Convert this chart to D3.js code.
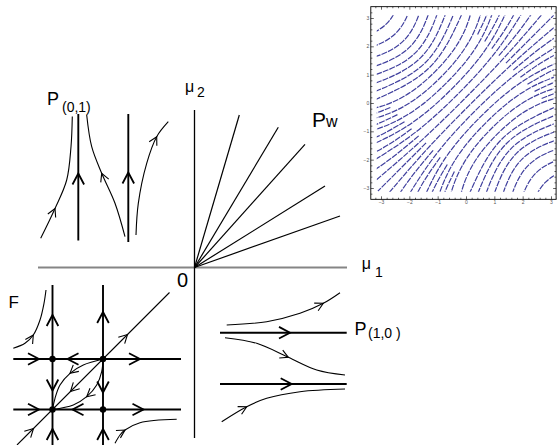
<!DOCTYPE html>
<html>
<head>
<meta charset="utf-8">
<script src="https://cdn.jsdelivr.net/npm/d3@7"></script>
<style>
body { margin: 0; background: #fff; }
svg { display: block; font-family: "Liberation Sans", Arial, sans-serif; }
</style>
</head>
<body>
<svg width="557" height="445"></svg>
<script>
// ---- main diagram, units: origin at (mu1, mu2) = (0, 0), y up ----
var axisH = [[-15.65, 0], [15.25, 0]];
var axisV = [[0, 15.75], [0, -17.05]];

// P_w : rays out of the origin (end points)
var rays = [[4.48, 15.25], [8.38, 14.02], [11.05, 12.32], [13.05, 8.15], [14.55, 5.15]];

// straight (invariant) trajectories, drawn thick
var straightLines = [
    [[-11.62, 15.35], [-11.62, 2.7]],
    [[-6.62, 15.35], [-6.62, 2.55]],
    [[-14.2, -1.75], [-14.2, -17.75]],
    [[-9.15, -1.75], [-9.15, -17.75]],
    [[-18.12, -9.15], [-1.35, -9.15]],
    [[-18.12, -14.2], [-1.35, -14.2]],
    [[2.55, -6.52], [15.22, -6.52]],
    [[2.55, -11.65], [15.22, -11.65]]
];
var diagonal = [[-17.75, -17.75], [-2.5, -2.5]];
var equilibria = [[-14.2, -9.15], [-9.15, -9.15], [-14.2, -14.2], [-9.15, -14.2]];

// arrow heads on the thick lines: [u, v, direction in degrees]
var lineArrows = [
    [-11.62, 9.4, 90], [-6.62, 9.5, 90],
    [-14.2, -4.75, 90], [-14.2, -12.3, -90], [-14.2, -16.15, 90],
    [-9.15, -4.45, 90], [-9.15, -12.5, -90], [-9.15, -16.15, 90],
    [-15.55, -9.15, 0], [-12.7, -9.15, 180], [-5.45, -9.15, 0],
    [-15.55, -14.2, 0], [-12.2, -14.2, 180], [-5.1, -14.2, 0],
    [9.55, -6.52, 0], [9.72, -11.65, 0]
];
var diagonalArrows = [[-6.7, -6.7, 45], [-16.1, -16.1, 45], [-12.4, -12.4, 225]];

// curved trajectories
var curves = [
    [[-15.38, 2.92], [-13.95, 5.9], [-12.78, 8.75], [-12.35, 12.08], [-12.22, 15.1]],
    [[-10.78, 15.25], [-10.28, 12.08], [-9.28, 9.42], [-7.95, 6.42], [-6.95, 3.08]],
    [[-5.85, 3.25], [-5.62, 6.42], [-4.78, 10.42], [-3.78, 13.08], [-2.62, 14.58]],
    [[-18.12, -8.08], [-16.95, -7.58], [-16.12, -6.75], [-15.45, -5.25], [-15.05, -3.58], [-14.85, -2.25]],
    [[-7.95, -17.58], [-7.45, -16.75], [-6.95, -16.25], [-5.45, -15.52], [-1.78, -15.18]],
    [[-9.15, -9.15], [-11.12, -9.75], [-12.45, -10.58], [-13.45, -11.75], [-13.95, -13.08], [-14.2, -14.2]],
    [[-9.15, -9.15], [-9.28, -10.42], [-9.78, -11.75], [-10.78, -12.92], [-12.12, -13.75], [-14.2, -14.2]],
    [[3.22, -5.75], [7.22, -5.42], [10.55, -4.58], [12.88, -3.58], [14.55, -2.52]],
    [[3.05, -7.02], [6.22, -7.58], [9.38, -8.98], [12.22, -10.25], [15.05, -10.75]],
    [[2.72, -15.42], [5.22, -13.92], [7.22, -13.08], [10.55, -12.42], [15.05, -12.15]]
];
// [curve, vertex, +1 forward / -1 backward]
var curveArrows = [[0, 1, 1], [1, 2, -1], [2, 3, 1], [3, 2, 1], [4, 2, 1], [5, 2, 1], [6, 3, 1], [7, 3, 1], [8, 2, 1], [9, 1, 1]];

// text pieces: [text, u, v, size]
var labels = [
    ["P", -14.75, 16.25, 18], ["(0,1)", -13.25, 15.55, 14],
    ["P", 11.75, 14.05, 21], ["w", 13.15, 14.05, 16],
    ["\u03bc", -0.95, 17.6, 16], ["2", 0.25, 17.05, 14],
    ["\u03bc", 16.72, -0.1, 16], ["1", 18.05, -0.95, 14],
    ["0", -1.75, -1.95, 20],
    ["F", -18.6, -4.05, 17],
    ["P", 16.0, -6.75, 18], ["(1,0 )", 17.35, -7.05, 14]
];

// ---- inset: stream plot ----
var insetTicks = [-3, -2, -1, 0, 1, 2, 3];
var streamUpper = [
    [[-3.35, -2.87], [-1.69, -1.43], [-0.1, 0.1], [1.43, 1.69], [2.87, 3.35]],
    [[-3.84, -2.38], [-1.95, -1.16], [-0.3, 0.3], [1.16, 1.95], [2.38, 3.84]],
    [[-4.33, -1.89], [-2.21, -0.90], [-0.5, 0.5], [0.90, 2.21], [1.89, 4.33]],
    [[-4.82, -1.40], [-2.47, -0.64], [-0.7, 0.7], [0.64, 2.47], [1.40, 4.82]],
    [[-5.31, -0.91], [-2.74, -0.38], [-0.9, 0.9], [0.38, 2.74], [0.91, 5.31]],
    [[-5.79, -0.43], [-3.00, -0.12], [-1.1, 1.1], [0.12, 3.00], [0.43, 5.79]],
    [[-3.22, 0.11], [-1.27, 1.27], [-0.11, 3.22]],
    [[-3.43, 0.32], [-1.43, 1.43], [-0.32, 3.43]],
    [[-3.65, 0.54], [-1.6, 1.6], [-0.54, 3.65]],
    [[-3.89, 0.78], [-1.78, 1.78], [-0.78, 3.89]],
    [[-4.15, 1.04], [-1.98, 1.98], [-1.04, 4.15]],
    [[-4.44, 1.33], [-2.2, 2.2], [-1.33, 4.44]],
    [[-4.79, 1.68], [-2.47, 2.47], [-1.68, 4.79]],
    [[-5.22, 2.11], [-2.8, 2.8], [-2.11, 5.22]]
];
var streamLower = [
    [[-2.87, -3.35], [-1.43, -1.69], [0.1, -0.1], [1.69, 1.43], [3.35, 2.87]],
    [[-2.38, -3.84], [-1.16, -1.95], [0.3, -0.3], [1.95, 1.16], [3.84, 2.38]],
    [[-1.89, -4.33], [-0.90, -2.21], [0.5, -0.5], [2.21, 0.90], [4.33, 1.89]],
    [[-1.40, -4.82], [-0.64, -2.47], [0.7, -0.7], [2.47, 0.64], [4.82, 1.40]],
    [[-0.91, -5.31], [-0.38, -2.74], [0.9, -0.9], [2.74, 0.38], [5.31, 0.91]],
    [[-0.43, -5.79], [-0.12, -3.00], [1.1, -1.1], [3.00, 0.12], [5.79, 0.43]],
    [[0.11, -3.22], [1.27, -1.27], [3.22, -0.11]],
    [[0.32, -3.43], [1.43, -1.43], [3.43, -0.32]],
    [[0.54, -3.65], [1.6, -1.6], [3.65, -0.54]],
    [[0.78, -3.89], [1.78, -1.78], [3.89, -0.78]],
    [[1.04, -4.15], [1.98, -1.98], [4.15, -1.04]],
    [[1.33, -4.44], [2.2, -2.2], [4.44, -1.33]],
    [[1.68, -4.79], [2.47, -2.47], [4.79, -1.68]],
    [[2.11, -5.22], [2.8, -2.8], [5.22, -2.11]]
];
// shorter lines that fill the two fans
var streamFanUR = [
    [[1.41, 1.41], [2.26, 2.26], [3.11, 3.11]],
    [[1.16, 1.67], [1.92, 2.60], [2.62, 3.60]],
    [[0.91, 1.92], [1.59, 2.94], [2.14, 4.09]],
    [[0.66, 2.17], [1.25, 3.28], [1.65, 4.58]],
    [[0.41, 2.42], [0.91, 3.62], [1.16, 5.06]],
    [[1.67, 1.16], [2.60, 1.92], [3.60, 2.62]],
    [[1.92, 0.91], [2.94, 1.59], [4.09, 2.14]],
    [[2.17, 0.66], [3.28, 1.25], [4.58, 1.65]],
    [[2.42, 0.41], [3.62, 0.91], [5.06, 1.16]],
    [[2.67, 0.16], [3.96, 0.57], [5.55, 0.67]]
];
var streamFanLL = [
    [[-1.41, -1.41], [-2.26, -2.26], [-3.11, -3.11]],
    [[-1.67, -1.16], [-2.60, -1.92], [-3.60, -2.62]],
    [[-1.92, -0.91], [-2.94, -1.59], [-4.09, -2.14]],
    [[-2.17, -0.66], [-3.28, -1.25], [-4.58, -1.65]],
    [[-2.42, -0.41], [-3.62, -0.91], [-5.06, -1.16]],
    [[-2.67, -0.16], [-3.96, -0.57], [-5.55, -0.67]],
    [[-1.16, -1.67], [-1.92, -2.60], [-2.62, -3.60]],
    [[-0.91, -1.92], [-1.59, -2.94], [-2.14, -4.09]],
    [[-0.66, -2.17], [-1.25, -3.28], [-1.65, -4.58]],
    [[-0.41, -2.42], [-0.91, -3.62], [-1.16, -5.06]]
];

var svg = d3.select("svg");

var x = d3.scaleLinear().domain([-19.45, 36.25]).range([0, 557]),
    y = d3.scaleLinear().domain([26.75, -17.75]).range([0, 445]);

var straight = d3.line()
    .x(function(d) { return x(d[0]); })
    .y(function(d) { return y(d[1]); });

var smooth = d3.line()
    .curve(d3.curveCatmullRom)
    .x(function(d) { return x(d[0]); })
    .y(function(d) { return y(d[1]); });

function chevron(g, px, py, deg, len, wid, sw) {
    g.append("path")
        .attr("d", "M" + (-len) + "," + (-wid) + "L0,0L" + (-len) + "," + wid)
        .attr("transform", "translate(" + px + "," + py + ") rotate(" + deg + ")")
        .attr("fill", "none")
        .attr("stroke", "#000")
        .attr("stroke-width", sw)
        .attr("stroke-linejoin", "miter");
}

var g = svg.append("g");

g.append("path")
    .attr("d", straight(axisH))
    .attr("fill", "none")
    .attr("stroke", "#858585")
    .attr("stroke-width", 2.2);

g.append("path")
    .attr("d", straight(axisV))
    .attr("fill", "none")
    .attr("stroke", "#000")
    .attr("stroke-width", 1.3);

g.selectAll(".ray")
    .data(rays)
    .enter().append("path")
    .attr("class", "ray")
    .attr("d", function(d) { return straight([[0, 0], d]); })
    .attr("fill", "none")
    .attr("stroke", "#000")
    .attr("stroke-width", 1.2);

g.selectAll(".sline")
    .data(straightLines)
    .enter().append("path")
    .attr("class", "sline")
    .attr("d", straight)
    .attr("fill", "none")
    .attr("stroke", "#000")
    .attr("stroke-width", 1.9);

g.append("path")
    .attr("d", straight(diagonal))
    .attr("fill", "none")
    .attr("stroke", "#000")
    .attr("stroke-width", 1.1);

g.selectAll(".traj")
    .data(curves)
    .enter().append("path")
    .attr("class", "traj")
    .attr("d", smooth)
    .attr("fill", "none")
    .attr("stroke", "#000")
    .attr("stroke-width", 1.1);

g.selectAll(".eq")
    .data(equilibria)
    .enter().append("circle")
    .attr("class", "eq")
    .attr("cx", function(d) { return x(d[0]); })
    .attr("cy", function(d) { return y(d[1]); })
    .attr("r", 3.2)
    .attr("fill", "#000");

lineArrows.forEach(function(a) {
    chevron(g, x(a[0]), y(a[1]), -a[2], 11, 5.8, 1.8);
});
diagonalArrows.forEach(function(a) {
    chevron(g, x(a[0]), y(a[1]), -a[2], 8.5, 4.5, 1.1);
});
curveArrows.forEach(function(a) {
    var pts = curves[a[0]], i = a[1],
        p0 = pts[i - 1], p1 = pts[i + 1];
    var ang = Math.atan2(y(p1[1]) - y(p0[1]), x(p1[0]) - x(p0[0])) * 180 / Math.PI;
    if (a[2] < 0) ang += 180;
    chevron(g, x(pts[i][0]), y(pts[i][1]), ang, 8, 4.3, 1.1);
});

g.selectAll(".lbl")
    .data(labels)
    .enter().append("text")
    .attr("class", "lbl")
    .attr("x", function(d) { return x(d[1]); })
    .attr("y", function(d) { return y(d[2]); })
    .style("font-size", function(d) { return d[3] + "px"; })
    .attr("fill", "#000")
    .text(function(d) { return d[0]; });

// ---- inset ----
var ix = d3.scaleLinear().domain([-3, 3]).range([381, 551]),
    iy = d3.scaleLinear().domain([-3, 3]).range([188, 18]);
var fx0 = -3.36, fx1 = 3.18, fy0 = -3.4, fy1 = 3.4;

var ins = svg.append("g");

svg.append("defs").append("clipPath")
    .attr("id", "sclip")
    .append("rect")
    .attr("x", ix(-3.15))
    .attr("y", iy(3.1))
    .attr("width", ix(3.1) - ix(-3.15))
    .attr("height", iy(-3.13) - iy(3.1));

var stream = d3.line()
    .curve(d3.curveNatural)
    .x(function(d) { return ix(d[0]); })
    .y(function(d) { return iy(d[1]); });

ins.append("g")
    .attr("clip-path", "url(#sclip)")
    .selectAll("path")
    .data(streamUpper.concat(streamLower, streamFanUR, streamFanLL))
    .enter().append("path")
    .attr("d", stream)
    .attr("fill", "none")
    .attr("stroke", "#40409e")
    .attr("stroke-width", 1.2)
    .attr("stroke-dasharray", "6,1.1");

ins.append("rect")
    .attr("x", ix(fx0))
    .attr("y", iy(fy1))
    .attr("width", ix(fx1) - ix(fx0))
    .attr("height", iy(fy0) - iy(fy1))
    .attr("fill", "none")
    .attr("stroke", "#000")
    .attr("stroke-width", 0.9);

var minorTicks = d3.range(-32, 33, 2).map(function(k) { return k / 10; })
    .filter(function(v) { return Math.abs(v - Math.round(v)) > 0.01; });

function styleAxis(sel) {
    sel.select(".domain").remove();
    sel.selectAll("line").attr("stroke", "#000").attr("stroke-width", 0.6);
    sel.selectAll("text")
        .style("font-size", "5px")
        .style("font-family", "'Liberation Sans', Arial, sans-serif")
        .attr("fill", "#555");
}

var sides = [
    [d3.axisLeft(iy), "translate(" + ix(fx0) + ",0)", true],
    [d3.axisRight(iy), "translate(" + ix(fx1) + ",0)", false],
    [d3.axisBottom(ix), "translate(0," + iy(fy0) + ")", true],
    [d3.axisTop(ix), "translate(0," + iy(fy1) + ")", false]
];
sides.forEach(function(s) {
    var major = s[0].tickValues(insetTicks).tickSizeInner(-3).tickSizeOuter(0).tickPadding(1.6)
        .tickFormat(s[2] ? d3.format("d") : "");
    ins.append("g").attr("transform", s[1]).call(major).call(styleAxis);
});
[d3.axisLeft(iy), d3.axisRight(iy), d3.axisBottom(ix), d3.axisTop(ix)].forEach(function(a, k) {
    var minor = a.tickValues(minorTicks).tickSizeInner(-1.6).tickSizeOuter(0).tickFormat("");
    ins.append("g").attr("transform", sides[k][1]).call(minor).call(styleAxis);
});
</script>
</body>
</html>
